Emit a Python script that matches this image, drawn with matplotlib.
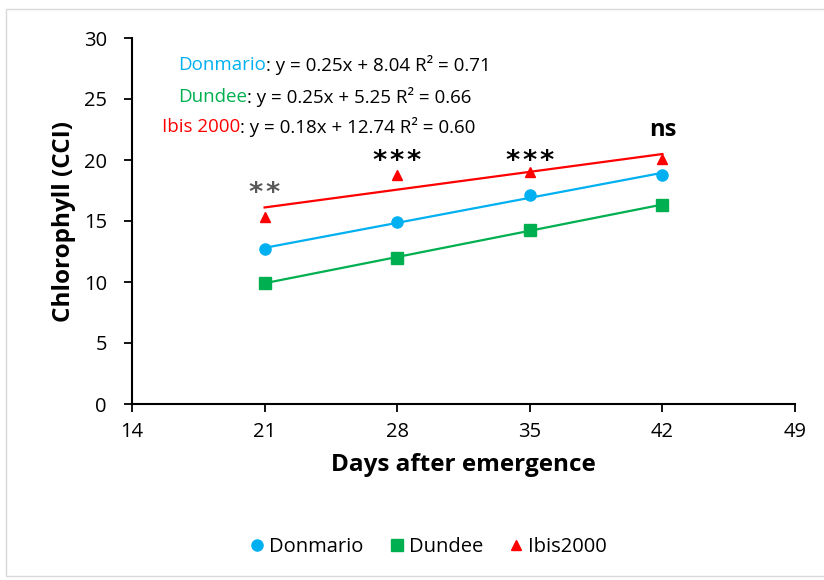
import numpy as np
import matplotlib.pyplot as plt
from matplotlib.patches import Rectangle

plt.rcParams['font.family'] = ['Open Sans', 'DejaVu Sans']

days = [21, 28, 35, 42]
donmario = [12.7, 14.9, 17.1, 18.8]
dundee = [9.9, 12.0, 14.3, 16.3]
ibis = [15.3, 18.8, 19.0, 20.1]

sig_labels = ['**', '***', '***', 'ns']
sig_y = [17.2, 19.8, 19.8, 22.5]
sig_colors = ['#595959', 'black', 'black', 'black']

equations = [
    ('Donmario', ': y = 0.25x + 8.04 R² = 0.71', '#00B0F0'),
    ('Dundee', ': y = 0.25x + 5.25 R² = 0.66', '#00B050'),
    ('Ibis 2000', ': y = 0.18x + 12.74 R² = 0.60', '#FF0000'),
]

series = [
    ('Donmario', donmario, '#00B0F0', 'o', 8),
    ('Dundee', dundee, '#00B050', 's', 8),
    ('Ibis2000', ibis, '#FF0000', '^', 7),
]

fig = plt.figure(figsize=(8.24, 5.8), dpi=100)
ax = fig.add_axes([132 / 824, 1 - 404 / 580, 663 / 824, 366 / 580])

# frame around the whole chart
fig.patches.append(Rectangle((6 / 824, 4 / 580), 1.0, 567 / 580, transform=fig.transFigure,
                             fill=False, edgecolor='#D9D9D9', linewidth=1))

x = np.array(days)
for name, vals, col, mk, ms in series:
    ax.plot(days, vals, linestyle='none', marker=mk, color=col, markersize=ms, label=name)
    k, b = np.polyfit(x, vals, 1)
    ax.plot(x, k * x + b, color=col, linewidth=1.6)

for d, lab, yy, c in zip(days, sig_labels, sig_y, sig_colors):
    if lab.startswith('*'):
        # spaced stars, like the original
        ax.text(d, yy, '\u200a'.join(lab), ha='center', va='center', fontsize=19.5,
                fontweight='bold', color=c, family='DejaVu Sans')
    else:
        ax.text(d, yy, lab, ha='center', va='center', fontsize=17, fontweight='bold', color=c)

ypos = [0.925, 0.84, 0.758]
xpos = [0.069, 0.069, 0.045]
for (name, rest, col), yy, xx in zip(equations, ypos, xpos):
    t = ax.text(xx, yy, name, transform=ax.transAxes, color=col, fontsize=13.5, va='center')
    ax.annotate(rest, xycoords=t, xy=(1, 0.5), va='center', fontsize=13.5, color='black')

ax.set_xlim(14, 49)
ax.set_ylim(0, 30)
ax.set_xticks(np.arange(14, 50, 7))
ax.set_yticks(np.arange(0, 31, 5))
ax.tick_params(labelsize=14.5, length=6, width=1.3, direction='out')
ax.tick_params(axis='y', pad=12)
ax.tick_params(axis='x', pad=7)
for s in ['top', 'right']:
    ax.spines[s].set_visible(False)
for s in ['left', 'bottom']:
    ax.spines[s].set_linewidth(1.5)

ax.set_ylabel('Chlorophyll (CCI)', fontsize=17.5, fontweight='bold', labelpad=6)
ax.set_xlabel('Days after emergence', fontsize=17.5, fontweight='bold', labelpad=8)

ax.legend(loc='center', bbox_to_anchor=(0.445, -0.39), ncol=3, frameon=False,
          fontsize=14.5, handletextpad=0.1, columnspacing=1.15, handlelength=1.0)

fig.savefig('out.png', dpi=100)
